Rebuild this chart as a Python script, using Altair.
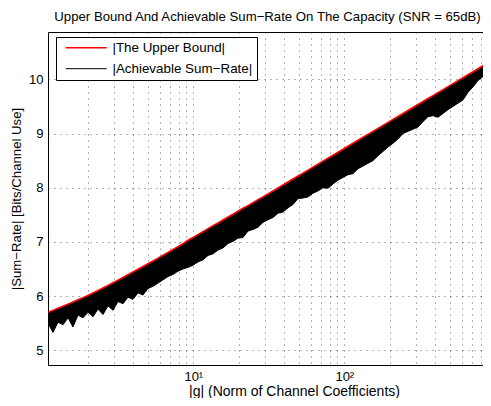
import altair as alt
import pandas as pd

# |g| sample positions (norm of channel coefficients)
g_norm = [1.091, 1.177, 1.271, 1.371, 1.480, 1.597, 1.724, 1.860, 2.007, 2.167,
          2.338, 2.523, 2.723, 2.939, 3.172, 3.423, 3.694, 3.988, 4.303, 4.644,
          5.012, 5.409, 5.837, 6.300, 6.800, 7.338, 7.918, 8.548, 9.224, 9.954,
          10.74, 11.59, 12.52, 13.51, 14.58, 15.73, 16.98, 18.32, 19.77, 21.34,
          23.03, 24.86, 26.82, 28.94, 31.24, 33.71, 36.38, 39.26, 42.39, 45.74,
          49.36, 53.27, 57.49, 62.04, 66.95, 72.25, 78.01, 84.18, 90.84, 98.04,
          105.8, 114.2, 123.2, 133.0, 143.5, 154.9, 167.2, 180.4, 194.7, 210.2,
          226.8, 244.8, 264.2, 285.1, 307.7, 332.1, 358.4, 386.8, 417.4, 450.5,
          486.2, 524.7, 566.2, 611.1, 659.5, 711.7, 768.1, 828.9, 894.6, 936.5]

# The upper bound (red curve)
upper_bound = [5.700, 5.737, 5.775, 5.813, 5.852, 5.892, 5.932, 5.972, 6.013, 6.058,
               6.104, 6.151, 6.198, 6.246, 6.295, 6.344, 6.394, 6.444, 6.495, 6.546,
               6.597, 6.649, 6.701, 6.753, 6.806, 6.859, 6.912, 6.966, 7.030, 7.080,
               7.135, 7.190, 7.245, 7.300, 7.350, 7.405, 7.460, 7.510, 7.565, 7.620,
               7.670, 7.725, 7.780, 7.830, 7.885, 7.940, 7.995, 8.050, 8.105, 8.160,
               8.215, 8.270, 8.325, 8.380, 8.435, 8.490, 8.545, 8.600, 8.655, 8.710,
               8.765, 8.820, 8.875, 8.930, 8.985, 9.040, 9.095, 9.150, 9.205, 9.260,
               9.315, 9.370, 9.425, 9.480, 9.535, 9.590, 9.645, 9.700, 9.755, 9.810,
               9.865, 9.920, 9.975, 10.030, 10.085, 10.140, 10.195, 10.250, 10.305, 10.345]

# Lowest values reached by the oscillating achievable sum-rate (black band)
achievable_low = [5.50, 5.33, 5.52, 5.47, 5.60, 5.43, 5.65, 5.60, 5.70, 5.62,
                  5.76, 5.66, 5.82, 5.74, 5.90, 5.86, 5.98, 5.94, 6.06, 6.02,
                  6.14, 6.18, 6.24, 6.30, 6.36, 6.40, 6.46, 6.50, 6.53, 6.57,
                  6.63, 6.67, 6.75, 6.78, 6.85, 6.89, 6.97, 7.01, 7.07, 7.08,
                  7.20, 7.23, 7.27, 7.36, 7.41, 7.45, 7.53, 7.55, 7.63, 7.69,
                  7.80, 7.81, 7.83, 7.90, 7.94, 8.00, 7.99, 8.07, 8.14, 8.19,
                  8.24, 8.26, 8.35, 8.40, 8.45, 8.50, 8.59, 8.67, 8.75, 8.82,
                  8.90, 9.00, 9.04, 9.08, 9.12, 9.22, 9.31, 9.33, 9.30, 9.37,
                  9.44, 9.50, 9.56, 9.62, 9.76, 9.86, 9.98, 10.05, 10.12, 10.17]

S_UP = "|The Upper Bound|"
S_ACH = "|Achievable Sum\u2212Rate|"
series_names = [S_UP, S_ACH]
series_colors = ["#ff0000", "#000000"]
series_widths = [1.6, 1.0]

x_grid_values = [2, 3, 4, 5, 6, 7, 8, 9, 10, 20, 30, 40, 50, 60, 70, 80, 90,
                 100, 200, 300, 400, 500, 600, 700, 800]
y_tick_values = [5, 6, 7, 8, 9, 10]

n = len(g_norm)
band = pd.DataFrame({"g": g_norm, "lo": achievable_low, "hi": upper_bound})
lines = pd.DataFrame({
    "g": g_norm + g_norm,
    "rate": achievable_low + upper_bound,
    "series": [S_ACH] * n + [S_UP] * n,
})

FONT = "Liberation Sans"

x_scale = alt.Scale(type="log", domain=[1.091, 828.9], nice=False)
y_scale = alt.Scale(domain=[4.729, 10.873], nice=False, zero=False)

x_axis = alt.Axis(
    values=x_grid_values,
    labelExpr="datum.value == 10 ? '10\u00b9' : (datum.value == 100 ? '10\u00b2' : '')",
    labelFontSize=13,
    title="|g| (Norm of Channel Coefficients)",
    titleFontSize=14,
    titleX=246, titleY=30, titleAnchor="middle", titleAlign="center",
    titleBaseline="alphabetic",
    grid=True, ticks=False, labelPadding=5,
)
x_top_axis = alt.Axis(orient="top", labels=False, ticks=False, grid=False, title=None,
                      domain=True)
y_axis = alt.Axis(
    values=y_tick_values, format="d",
    title="|Sum\u2212Rate| [Bits/Channel Use]",
    labelFontSize=13, titleFontSize=13.2,
    grid=True, ticks=False, labelPadding=5, titleX=-25,
)

area = alt.Chart(band).mark_area(color="#000000", clip=True, opacity=1).encode(
    x=alt.X("g:Q", scale=x_scale, axis=x_axis),
    y=alt.Y("lo:Q", scale=y_scale, axis=y_axis),
    y2="hi:Q",
)

line = alt.Chart(lines).mark_line(clip=True).encode(
    x=alt.X("g:Q", scale=x_scale, axis=x_top_axis),
    y=alt.Y("rate:Q", scale=y_scale, axis=y_axis),
    color=alt.Color("series:N", scale=alt.Scale(domain=series_names, range=series_colors),
                    legend=alt.Legend(title=None)),
    strokeWidth=alt.StrokeWidth("series:N", scale=alt.Scale(domain=series_names, range=series_widths),
                                legend=alt.Legend(title=None)),
    order=alt.Order("series:N", sort="ascending"),
)

chart = (area + line).resolve_axis(x="independent").properties(
    width=435,
    height=333,
    autosize=alt.AutoSizeParams(type="none"),
    padding={"left": 40, "top": 24, "right": 0, "bottom": 33},
    title=alt.TitleParams(
        "Upper Bound And Achievable Sum\u2212Rate On The Capacity (SNR = 65dB)",
        fontSize=13.2, fontWeight="normal", font=FONT, color="#000000",
        baseline="alphabetic", offset=12.5, frame="group", anchor="middle", dx=2, dy=15,
    ),
).configure_view(
    stroke=None,
).configure_axis(
    labelFont=FONT, titleFont=FONT,
    labelColor="#000000", titleColor="#000000", titleFontWeight="normal",
    domainColor="#000000", domainWidth=1,
    gridColor="#000000", gridOpacity=0.6, gridDash=[1, 5], gridWidth=1,
).configure_legend(
    orient="none", legendX=8, legendY=5,
    strokeColor="#000000", fillColor="#ffffff", padding=4, cornerRadius=0,
    symbolType="M-4,0L4,0", symbolSize=105, symbolStrokeWidth=2,
    symbolOffset=19.5,
    labelFont=FONT, labelFontSize=13.4, labelColor="#000000", labelOffset=19.5,
    rowPadding=6,
)

chart.save("out.html", embed_options={"renderer": "svg", "actions": False})
